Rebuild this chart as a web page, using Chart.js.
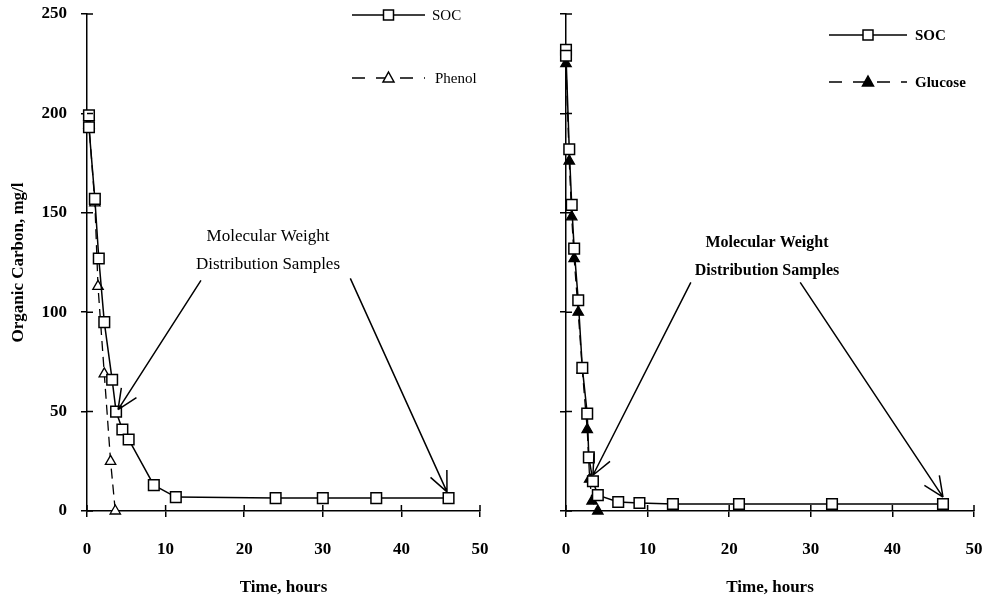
<!DOCTYPE html>
<html>
<head>
<meta charset="utf-8">
<script src="https://cdn.jsdelivr.net/npm/chart.js@4.4.1/dist/chart.umd.min.js"></script>
<style>
  html, body { margin: 0; padding: 0; background: #fff; }
  #wrap { position: relative; width: 988px; height: 601px; }
  canvas { position: absolute; top: 0; }
  #leftChart { left: 0; }
  #rightChart { left: 494px; }
</style>
</head>
<body>
<div id="wrap">
  <canvas id="leftChart" width="494" height="601"></canvas>
  <canvas id="rightChart" width="494" height="601"></canvas>
</div>
<script>
// phenol run (left panel)
const leftSocHours = [0.25, 0.25, 1.0, 1.5, 2.2, 3.2, 3.7, 4.5, 5.3, 8.5, 11.3, 24, 30, 36.8, 46]
const leftSocCarbon = [199, 193, 157, 127, 95, 66, 50, 41, 36, 13, 7, 6.5, 6.5, 6.5, 6.5]
const phenolHours = [0.25, 0.25, 1.0, 1.4, 2.2, 3.0, 3.6]
const phenolCarbon = [198, 194, 155, 113, 69, 25, 0]

// glucose run (right panel)
const rightSocHours = [0, 0, 0.4, 0.7, 1.0, 1.5, 2.0, 2.6, 2.8, 3.3, 3.9, 6.4, 9.0, 13.1, 21.2, 32.6, 46.2]
const rightSocCarbon = [232, 229, 182, 154, 132, 106, 72, 49, 27, 15, 8, 4.5, 4, 3.5, 3.5, 3.5, 3.5]
const glucoseHours = [0, 0.4, 0.7, 1.0, 1.5, 2.0, 2.6, 2.9, 3.2, 3.9]
const glucoseCarbon = [225, 176, 148, 127, 100, 71, 41, 16, 5, 0]

const xTicks = [0, 10, 20, 30, 40, 50]
const yTicks = [0, 50, 100, 150, 200, 250]

// arrows: [tailHours, tailCarbon, tipHours, tipCarbon]
const leftArrows = [[14.5, 116, 3.95, 51], [33.5, 117, 45.8, 9.6]]
const rightArrows = [[15.3, 115, 3.3, 18], [28.7, 115, 46.2, 7]]

const SERIF = '"Liberation Serif", "DejaVu Serif", serif'

const toPoints = (xs, ys) => xs.map((x, i) => ({ x, y: ys[i] }))

const socStyle = {
  borderColor: '#000',
  borderWidth: 1.5,
  pointStyle: 'rect',
  pointRadius: 7.5,
  pointBackgroundColor: '#fff',
  pointBorderColor: '#000',
  pointBorderWidth: 1.5,
  tension: 0,
  clip: false
}

const dashStyle = (fill) => ({
  borderColor: '#000',
  borderWidth: 1.3,
  borderDash: [10, 6],
  pointStyle: 'triangle',
  pointRadius: 6,
  pointBackgroundColor: fill,
  pointBorderColor: '#000',
  pointBorderWidth: 1.3,
  tension: 0,
  clip: false
})

const drawSample = (ctx, x1, x2, y, dashed, marker, fill) => {
  ctx.save()
  ctx.strokeStyle = '#000'
  ctx.lineWidth = 1.5
  ctx.setLineDash(dashed ? [13, 11] : [])
  ctx.beginPath()
  ctx.moveTo(x1, y)
  ctx.lineTo(x2, y)
  ctx.stroke()
  ctx.setLineDash([])
  const mx = (x1 + x2) / 2
  ctx.fillStyle = fill
  ctx.beginPath()
  if (marker === 'rect') {
    ctx.rect(mx - 5, y - 5, 10, 10)
  } else {
    ctx.moveTo(mx, y - 6)
    ctx.lineTo(mx + 5.5, y + 4)
    ctx.lineTo(mx - 5.5, y + 4)
    ctx.closePath()
  }
  ctx.fill()
  ctx.stroke()
  ctx.restore()
}

const drawArrow = (ctx, chart, a) => {
  const sx = chart.scales.x, sy = chart.scales.y
  const x1 = sx.getPixelForValue(a[0]), y1 = sy.getPixelForValue(a[1])
  const x2 = sx.getPixelForValue(a[2]), y2 = sy.getPixelForValue(a[3])
  const ang = Math.atan2(y2 - y1, x2 - x1)
  const len = 22, spread = 0.42
  ctx.save()
  ctx.strokeStyle = '#000'
  ctx.lineWidth = 1.5
  ctx.beginPath()
  ctx.moveTo(x1, y1)
  ctx.lineTo(x2, y2)
  ctx.moveTo(x2, y2)
  ctx.lineTo(x2 - len * Math.cos(ang - spread), y2 - len * Math.sin(ang - spread))
  ctx.moveTo(x2, y2)
  ctx.lineTo(x2 - len * Math.cos(ang + spread), y2 - len * Math.sin(ang + spread))
  ctx.stroke()
  ctx.restore()
}

// tick marks that cross into the plot area
const innerTicks = {
  id: 'innerTicks',
  afterDraw(chart) {
    const ctx = chart.ctx
    const { left, bottom } = chart.chartArea
    ctx.save()
    ctx.strokeStyle = '#000'
    ctx.lineWidth = 1.5
    ctx.beginPath()
    xTicks.forEach(v => {
      const px = chart.scales.x.getPixelForValue(v)
      ctx.moveTo(px, bottom)
      ctx.lineTo(px, bottom - 6)
    })
    yTicks.forEach(v => {
      const py = chart.scales.y.getPixelForValue(v)
      ctx.moveTo(left, py)
      ctx.lineTo(left + 6, py)
    })
    ctx.stroke()
    ctx.restore()
  }
}

const decorate = (opts) => ({
  id: 'decorate',
  afterDraw(chart) {
    const ctx = chart.ctx
    opts.legend.forEach(item => {
      drawSample(ctx, opts.legendX1, opts.legendX2, item.y, item.dashed, item.marker, item.fill)
      ctx.save()
      ctx.fillStyle = '#000'
      ctx.font = opts.legendFont
      ctx.textBaseline = 'middle'
      ctx.fillText(item.label, opts.legendX2 + item.gap, item.y + 1)
      ctx.restore()
    })
    ctx.save()
    ctx.fillStyle = '#000'
    ctx.font = opts.noteFont
    ctx.textAlign = 'center'
    ctx.textBaseline = 'middle'
    ctx.fillText('Molecular Weight', opts.noteX, opts.noteY)
    ctx.fillText('Distribution Samples', opts.noteX, opts.noteY + 28)
    ctx.restore()
    opts.arrows.forEach(a => drawArrow(ctx, chart, a))
  }
})

const makeOptions = (yAxisWidth, showY) => ({
  responsive: false,
  animation: false,
  layout: { padding: { top: 14, right: 14, left: 0, bottom: 0 } },
  plugins: { legend: { display: false }, tooltip: { enabled: false } },
  scales: {
    x: {
      type: 'linear',
      min: 0,
      max: 50,
      afterFit: s => {
        s.height = 90
        s.paddingLeft = 0
        s.paddingRight = 0
      },
      afterBuildTicks: s => { s.ticks = xTicks.map(v => ({ value: v })) },
      border: { color: '#000', width: 1.5 },
      grid: { drawOnChartArea: false, drawTicks: true, tickLength: 6, color: '#000', lineWidth: 1.5 },
      ticks: { color: '#000', padding: 22, maxRotation: 0, font: { family: SERIF, size: 17, weight: 'bold' } },
      title: {
        display: true,
        text: 'Time, hours',
        color: '#000',
        padding: { top: 0, bottom: 3 },
        font: { family: SERIF, size: 17, weight: 'bold' }
      }
    },
    y: {
      type: 'linear',
      min: 0,
      max: 250,
      afterFit: s => {
        s.width = yAxisWidth
        s.paddingTop = 0
        s.paddingBottom = 0
      },
      afterBuildTicks: s => { s.ticks = yTicks.map(v => ({ value: v })) },
      border: { color: '#000', width: 1.5 },
      grid: { drawOnChartArea: false, drawTicks: true, tickLength: 6, color: '#000', lineWidth: 1.5 },
      ticks: { display: showY, color: '#000', padding: 14, font: { family: SERIF, size: 17, weight: 'bold' } },
      title: {
        display: showY,
        text: 'Organic Carbon, mg/l',
        color: '#000',
        padding: { top: 8, bottom: 0 },
        font: { family: SERIF, size: 17, weight: 'bold' }
      }
    }
  }
})

new Chart(document.getElementById('leftChart').getContext('2d'), {
  type: 'line',
  data: {
    datasets: [
      Object.assign({ label: 'SOC', data: toPoints(leftSocHours, leftSocCarbon) }, socStyle),
      Object.assign({ label: 'Phenol', data: toPoints(phenolHours, phenolCarbon) }, dashStyle('#fff'))
    ]
  },
  options: makeOptions(87, true),
  plugins: [innerTicks, decorate({
    legendX1: 352, legendX2: 425, legendFont: '15px ' + SERIF,
    legend: [
      { label: 'SOC', y: 15, dashed: false, marker: 'rect', fill: '#fff', gap: 7 },
      { label: 'Phenol', y: 78, dashed: true, marker: 'tri', fill: '#fff', gap: 10 }
    ],
    noteFont: '17px ' + SERIF, noteX: 268, noteY: 237,
    arrows: leftArrows
  })]
})

new Chart(document.getElementById('rightChart').getContext('2d'), {
  type: 'line',
  data: {
    datasets: [
      Object.assign({ label: 'SOC', data: toPoints(rightSocHours, rightSocCarbon) }, socStyle),
      Object.assign({ label: 'Glucose', data: toPoints(glucoseHours, glucoseCarbon) }, dashStyle('#000'))
    ]
  },
  options: makeOptions(72, false),
  plugins: [innerTicks, decorate({
    legendX1: 335, legendX2: 413, legendFont: 'bold 15px ' + SERIF,
    legend: [
      { label: 'SOC', y: 35, dashed: false, marker: 'rect', fill: '#fff', gap: 8 },
      { label: 'Glucose', y: 82, dashed: true, marker: 'tri', fill: '#000', gap: 8 }
    ],
    noteFont: 'bold 16px ' + SERIF, noteX: 273, noteY: 243,
    arrows: rightArrows
  })]
})
</script>
</body>
</html>
